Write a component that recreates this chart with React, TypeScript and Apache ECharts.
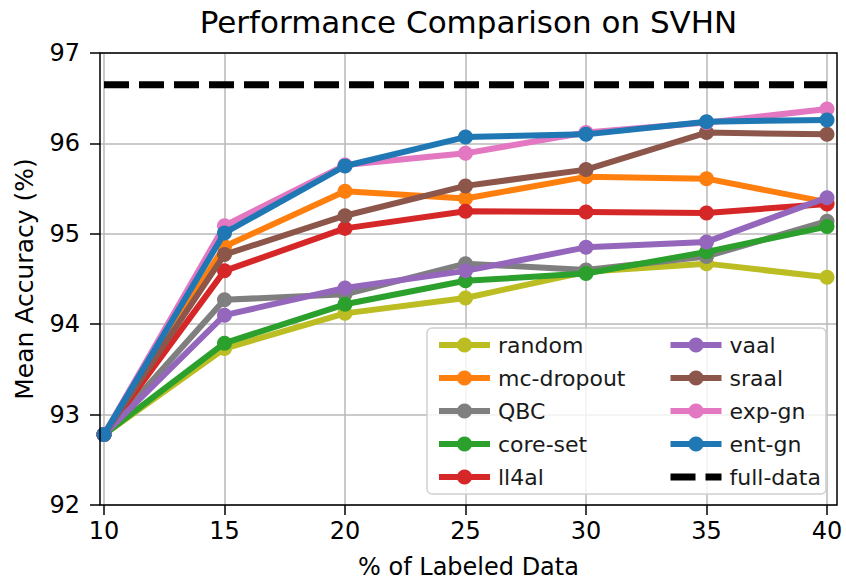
import React, { useEffect, useRef } from "react";
import * as echarts from "echarts";

const xValues = [10, 15, 20, 25, 30, 35, 40];
const xTicks = [10, 15, 20, 25, 30, 35, 40];
const yTicks = [92, 93, 94, 95, 96, 97];

const randomAcc = [92.78, 93.73, 94.12, 94.29, 94.58, 94.67, 94.52];
const mcDropoutAcc = [92.78, 94.86, 95.47, 95.39, 95.63, 95.61, 95.35];
const qbcAcc = [92.78, 94.27, 94.33, 94.67, 94.6, 94.75, 95.14];
const coreSetAcc = [92.78, 93.79, 94.22, 94.48, 94.56, 94.8, 95.08];
const ll4alAcc = [92.78, 94.59, 95.06, 95.25, 95.24, 95.23, 95.33];
const vaalAcc = [92.78, 94.1, 94.4, 94.59, 94.85, 94.91, 95.4];
const sraalAcc = [92.78, 94.77, 95.2, 95.53, 95.71, 96.12, 96.1];
const expGnAcc = [92.78, 95.09, 95.76, 95.89, 96.12, 96.23, 96.38];
const entGnAcc = [92.78, 95.01, 95.75, 96.07, 96.1, 96.24, 96.26];
const fullDataAcc = 96.65;

const seriesNames = ["random", "mc-dropout", "QBC", "core-set", "ll4al", "vaal", "sraal", "exp-gn", "ent-gn"];
const seriesValues = [randomAcc, mcDropoutAcc, qbcAcc, coreSetAcc, ll4alAcc, vaalAcc, sraalAcc, expGnAcc, entGnAcc];
const seriesColors = ["#bcbd22", "#ff7f0e", "#7f7f7f", "#2ca02c", "#d62728", "#9467bd", "#8c564b", "#e377c2", "#1f77b4"];

const FONT = "DejaVu Sans";

export default function App() {
  const ref = useRef<HTMLDivElement>(null);
  useEffect(() => {
    if (!ref.current) return;
    const chart = echarts.init(ref.current, null, { renderer: "svg" });
    const lineSeries: any[] = seriesNames.map((name, i) => ({
      name,
      type: "line",
      xAxisIndex: 0,
      yAxisIndex: 0,
      data: xValues.map((x, j) => [x, seriesValues[i][j]]),
      symbol: "circle",
      symbolSize: 15,
      clip: true,
      color: seriesColors[i],
      lineStyle: { width: 6, color: seriesColors[i] },
      itemStyle: { color: seriesColors[i] },
      z: 2 + i * 0.01,
    }));
    lineSeries.push({
      name: "full-data",
      type: "line",
      xAxisIndex: 0,
      yAxisIndex: 0,
      data: [
        [xValues[0], fullDataAcc],
        [xValues[xValues.length - 1], fullDataAcc],
      ],
      symbol: "none",
      color: "#000",
      lineStyle: { width: 7, color: "#000", type: [25, 10] },
      z: 3,
    });
    const legendCommon = {
      orient: "vertical",
      itemWidth: 51,
      itemHeight: 19,
      itemGap: 11,
      lineStyle: { width: 6 },
      textStyle: { fontFamily: FONT, fontSize: 22, color: "#1a1a1a", padding: [0, 0, 0, 3] },
      z: 10,
    };
    chart.setOption({
      animation: false,
      grid: [
        {
          left: 100, right: 9, top: 53, bottom: 75, show: true, borderColor: "#000", borderWidth: 1.5,
          backgroundColor: "transparent", z: 3, outerBoundsMode: "none", containLabel: false,
        },
        { left: 104, right: 19, top: 53, bottom: 75, show: false, outerBoundsMode: "none", containLabel: false },
      ],
      xAxis: [
        {
          type: "value",
          gridIndex: 0,
          min: 9.834,
          max: 40.415,
          axisLine: { show: false },
          axisTick: { show: false },
          axisLabel: { show: false },
          splitLine: { show: false },
          name: "% of Labeled Data",
          nameLocation: "middle",
          nameGap: 50,
          nameTextStyle: { fontFamily: FONT, fontSize: 24, lineHeight: 24, color: "#000" },
        },
        {
          type: "value",
          gridIndex: 1,
          min: xTicks[0],
          max: xTicks[xTicks.length - 1],
          interval: 5,
          axisLine: { show: false },
          axisTick: { show: true, length: 10, lineStyle: { color: "#000", width: 1.5 } },
          axisLabel: { fontFamily: FONT, fontSize: 24, color: "#000", margin: 14 },
          splitLine: { show: true, lineStyle: { color: "#b8b8b8", width: 1.5 } },
        },
      ],
      yAxis: [
        {
          type: "value",
          gridIndex: 0,
          min: yTicks[0],
          max: yTicks[yTicks.length - 1],
          interval: 1,
          axisLine: { show: false },
          axisTick: { show: true, length: 10, lineStyle: { color: "#000", width: 1.5 } },
          axisLabel: { fontFamily: FONT, fontSize: 24, color: "#000", margin: 20 },
          splitLine: { show: true, lineStyle: { color: "#b8b8b8", width: 1.5 } },
          name: "Mean Accuracy (%)",
          nameLocation: "middle",
          nameGap: 63,
          nameTextStyle: { fontFamily: FONT, fontSize: 25, color: "#000" },
        },
        {
          type: "value",
          gridIndex: 1,
          min: yTicks[0],
          max: yTicks[yTicks.length - 1],
          show: false,
        },
      ],
      legend: [
        { ...legendCommon, left: 431, top: 329, data: seriesNames.slice(0, 5) },
        {
          ...legendCommon,
          left: 662,
          top: 329,
          data: [
            ...seriesNames.slice(5),
            { name: "full-data", itemStyle: { opacity: 0 }, lineStyle: { width: 7, type: [25, 10], color: "#000" } },
          ],
        },
      ],
      graphic: [
        {
          type: "rect",
          z: 5,
          shape: { x: 427, y: 328, width: 399, height: 166, r: 5 },
          style: { fill: "rgba(255,255,255,0.8)", stroke: "#d0d0d0", lineWidth: 1.5 },
        },
        {
          type: "text",
          x: 468.5,
          y: 22,
          style: {
            text: "Performance Comparison on SVHN",
            fontFamily: FONT,
            fontSize: 31,
            fill: "#000",
            textAlign: "center",
            textVerticalAlign: "middle",
          },
        },
      ],
      series: lineSeries,
    });
    return () => chart.dispose();
  }, []);
  return <div ref={ref} style={{ position: "absolute", left: 0, top: 0, width: 846, height: 580 }} />;
}
